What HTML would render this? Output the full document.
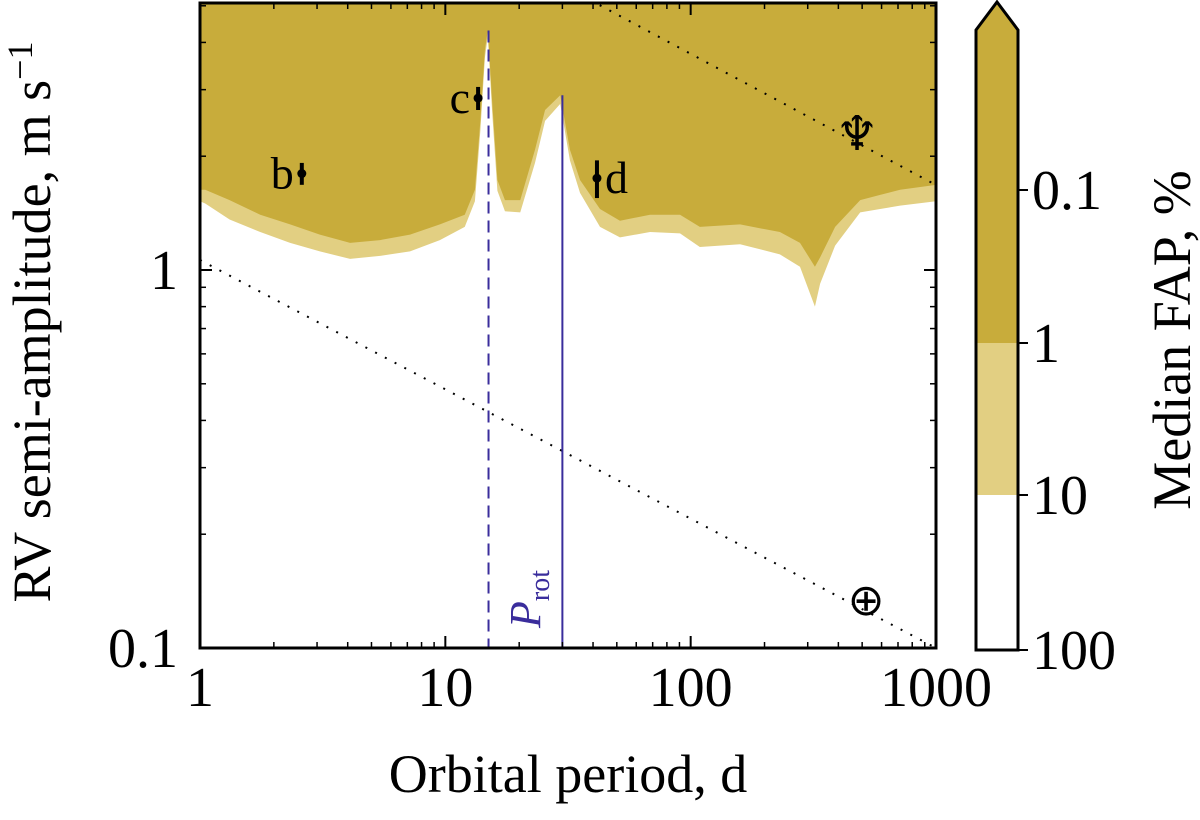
<!DOCTYPE html>
<html><head><meta charset="utf-8"><style>
body{margin:0;background:#fff;}
svg text{font-family:"Liberation Serif",serif;fill:#000;}
</style></head><body>
<svg id="chart" width="1200" height="815" viewBox="0 0 1200 815" xmlns="http://www.w3.org/2000/svg">
<defs><clipPath id="pc"><rect x="200" y="3" width="736" height="645"/></clipPath></defs>
<g id="plot" clip-path="url(#pc)"></g>
<g id="over"></g>
</svg>
<script>
const periods=[1,1.05,1.32,1.76,2.33,3.08,4.09,5.42,7.18,9.5,12.0,13.2,13.9,14.5,14.9,15.5,16.3,17.5,20.2,23.2,25.5,29.4,32.2,35.4,42.7,51.5,68.3,90.5,109,159,231,279,321,337,388,491,592,714,1000];
const darkK=[1.63,1.63,1.53,1.40,1.32,1.24,1.18,1.20,1.24,1.32,1.40,1.63,2.49,3.82,4.31,2.82,1.73,1.53,1.53,2.08,2.65,2.90,2.08,1.73,1.45,1.35,1.40,1.40,1.30,1.32,1.26,1.18,1.02,1.08,1.30,1.53,1.58,1.63,1.68];
const lightK=[1.52,1.50,1.36,1.26,1.18,1.12,1.07,1.09,1.12,1.20,1.30,1.52,2.35,3.65,4.15,2.65,1.62,1.43,1.42,1.92,2.48,2.75,1.95,1.60,1.30,1.22,1.26,1.25,1.15,1.17,1.10,1.02,0.80,0.92,1.16,1.42,1.45,1.48,1.52];
const planetNames=['b','c','d'];
const planetP=[2.6,13.6,41.5];
const planetK=[1.8,2.85,1.75];
const planetErr=[0.12,0.2,0.2];
const xTicks=[1,10,100,1000];
const xTickLabels=['1','10','100','1000'];
const yTicks=[0.1,1];
const yTickLabels=['0.1','1'];
const cbLabels=['0.1','1','10','100'];
const pRot=30, pHalf=15;

const X0=200,X1=936,Y0=648,Y1=3;
const xs=p=>X0+Math.log10(p)*(X1-X0)/3;
const ys=k=>270-Math.log10(k)*378;
const NS='http://www.w3.org/2000/svg';
function mk(t,a,parent){const e=document.createElementNS(NS,t);for(const k in a)e.setAttribute(k,a[k]);(parent||document.getElementById('over')).appendChild(e);return e;}
const plot=document.getElementById('plot');
function area(arr,color,name){
  let d='M'+xs(periods[0])+','+Y1;
  periods.forEach((p,i)=>{d+=' L'+xs(p)+','+ys(arr[i]);});
  d+=' L'+xs(periods[periods.length-1])+','+Y1+' Z';
  const e=mk('path',{d:d,fill:color},plot);
  
  
}
area(lightK,'#e2cf82','fap-10-region');
area(darkK,'#c8ac3b','fap-1-region');
let l=mk('line',{x1:590,y1:0,x2:936,y2:185,stroke:'#000','stroke-width':2,'stroke-dasharray':'2 9'},plot);


l=mk('line',{x1:200,y1:260,x2:936,y2:648,stroke:'#000','stroke-width':2,'stroke-dasharray':'2 9'},plot);


l=mk('line',{x1:xs(pRot),y1:ys(2.9),x2:xs(pRot),y2:Y0,stroke:'#3a2d9c','stroke-width':2},plot);


l=mk('line',{x1:xs(pHalf),y1:ys(4.3),x2:xs(pHalf),y2:Y0,stroke:'#3a2d9c','stroke-width':2,'stroke-dasharray':'12 7'},plot);


planetNames.forEach((n,i)=>{
  const x=xs(planetP[i]),y=ys(planetK[i]);
  const g=mk('g',{});
  
  
  mk('line',{x1:x,x2:x,y1:ys(planetK[i]+planetErr[i]),y2:ys(planetK[i]-planetErr[i]),stroke:'#000','stroke-width':4},g);
  mk('circle',{cx:x,cy:y,r:4.5,fill:'#000'},g);
  const t=mk('text',{x:n==='d'?x+8:x-8,y:y+15,'font-size':46,'text-anchor':n==='d'?'start':'end'},g);
  t.textContent=n;
});
let t=mk('text',{x:857,y:150,'font-size':48,'text-anchor':'middle'});t.textContent='♆';

t=mk('text',{x:866,y:615,'font-size':44,'text-anchor':'middle','font-family':'DejaVu Sans'});t.textContent='⊕';

t=mk('text',{transform:'translate(540,628) rotate(-90)','font-size':44,'font-style':'italic',fill:'#3a2d9c'});
t.innerHTML='<tspan fill="#3a2d9c">P</tspan><tspan dy="9" font-size="28" font-style="normal" fill="#3a2d9c">rot</tspan>';

let f=mk('rect',{x:X0,y:Y1,width:X1-X0,height:Y0-Y1,fill:'none',stroke:'#000','stroke-width':3});

xTicks.forEach((v,i)=>{
  const x=xs(v);
  mk('line',{x1:x,x2:x,y1:Y0,y2:Y0-12,stroke:'#000','stroke-width':2});
  mk('line',{x1:x,x2:x,y1:Y1,y2:Y1+12,stroke:'#000','stroke-width':2});
  const tt=mk('text',{x:x,y:706,'font-size':56,'text-anchor':'middle'});tt.textContent=xTickLabels[i];
  
  if(v<1000)for(let m=2;m<10;m++){const xm=xs(v*m);
    mk('line',{x1:xm,x2:xm,y1:Y0,y2:Y0-6,stroke:'#000','stroke-width':1.5});
    mk('line',{x1:xm,x2:xm,y1:Y1,y2:Y1+6,stroke:'#000','stroke-width':1.5});}
});
yTicks.forEach((v,i)=>{
  const y=ys(v);
  mk('line',{x1:X0,x2:X0+12,y1:y,y2:y,stroke:'#000','stroke-width':2});
  mk('line',{x1:X1,x2:X1-12,y1:y,y2:y,stroke:'#000','stroke-width':2});
  const tt=mk('text',{x:178,y:y+19,'font-size':56,'text-anchor':'end'});tt.textContent=yTickLabels[i];
  
});
for(const dec of [0.1,1])for(let m=2;m<10;m++){const y=ys(dec*m);if(y<Y1)continue;
  mk('line',{x1:X0,x2:X0+6,y1:y,y2:y,stroke:'#000','stroke-width':1.5});
  mk('line',{x1:X1,x2:X1-6,y1:y,y2:y,stroke:'#000','stroke-width':1.5});}
t=mk('text',{x:568,y:792,'font-size':54,'text-anchor':'middle'});t.textContent='Orbital period, d';

t=mk('text',{transform:'translate(50,322) rotate(-90)','font-size':54,'text-anchor':'middle'});
t.innerHTML='RV semi-amplitude, m s<tspan dy="-18" font-size="36">−1</tspan>';

const cb=mk('g',{});
mk('rect',{x:976,y:495,width:42,height:155,fill:'#fff'},cb);
mk('rect',{x:976,y:343,width:42,height:152,fill:'#e2cf82'},cb);
mk('polygon',{points:'976,343 976,30 997,2 1018,30 1018,343',fill:'#c8ac3b'},cb);
mk('polygon',{points:'976,650 976,30 997,2 1018,30 1018,650',fill:'none',stroke:'#000','stroke-width':3},cb);
[190,343,495,650].forEach((y,i)=>{
  mk('line',{x1:1018,x2:1028,y1:y,y2:y,stroke:'#000','stroke-width':2},cb);
  const tt=mk('text',{x:1032,y:y+19,'font-size':56},cb);tt.textContent=cbLabels[i];
});
t=mk('text',{transform:'translate(1190,340) rotate(-90)','font-size':54,'text-anchor':'middle'});t.textContent='Median FAP, %';

</script>
</body></html>
